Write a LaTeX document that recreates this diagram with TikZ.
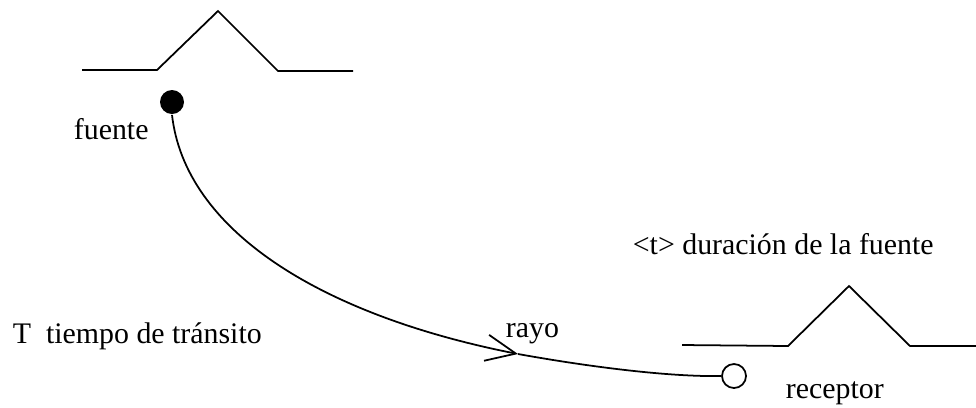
\documentclass[tikz,border=0pt]{standalone}
\usepackage{fontspec}
\setmainfont{Liberation Serif}
\usetikzlibrary{arrows.meta}

\begin{document}
\begin{tikzpicture}[x=0.02cm, y=-0.02cm, line width=1pt,
    font=\fontsize{17}{20}\selectfont,
    lbl/.style={anchor=base west, inner sep=0pt},
    pulso/.style={line join=miter}]
    \useasboundingbox (0,0) rectangle (976,407);
    % pulso emitido y pulso recibido
    \draw[pulso] (82,70) -- (157,70) -- (218,11) -- (278,71) -- (353,71);
    \draw[pulso] (682,345) -- (788,346) -- (849,286) -- (910,346) -- (976,346);
    \node[circle, fill, inner sep=0pt, minimum size=0.48cm] (fte) at (172,102) {};
    \node[circle, draw, inner sep=0pt, minimum size=0.48cm] (rec) at (734,376) {};
    \coordinate (punta) at (518,354);
    \draw[-{Straight Barb[length=17pt, width=15pt]}] (fte.south) .. controls (185,230) and (320,315) .. (punta);
    \draw (punta) .. controls (590,367) and (670,377) .. (rec.west);
    % textos
    \node[lbl] (lfte) at (73,139) {fuente};
    \node[lbl] (lray) at (505,337) {rayo};
    \node[lbl] (lrec) at (785,398) {receptor};
    \node[lbl] (ldur) at (632,254) {\textless t\textgreater{} duración de la fuente};
    \node[lbl] (ltra) at (12,343) {T\enspace tiempo de tránsito};
\end{tikzpicture}
\end{document}
